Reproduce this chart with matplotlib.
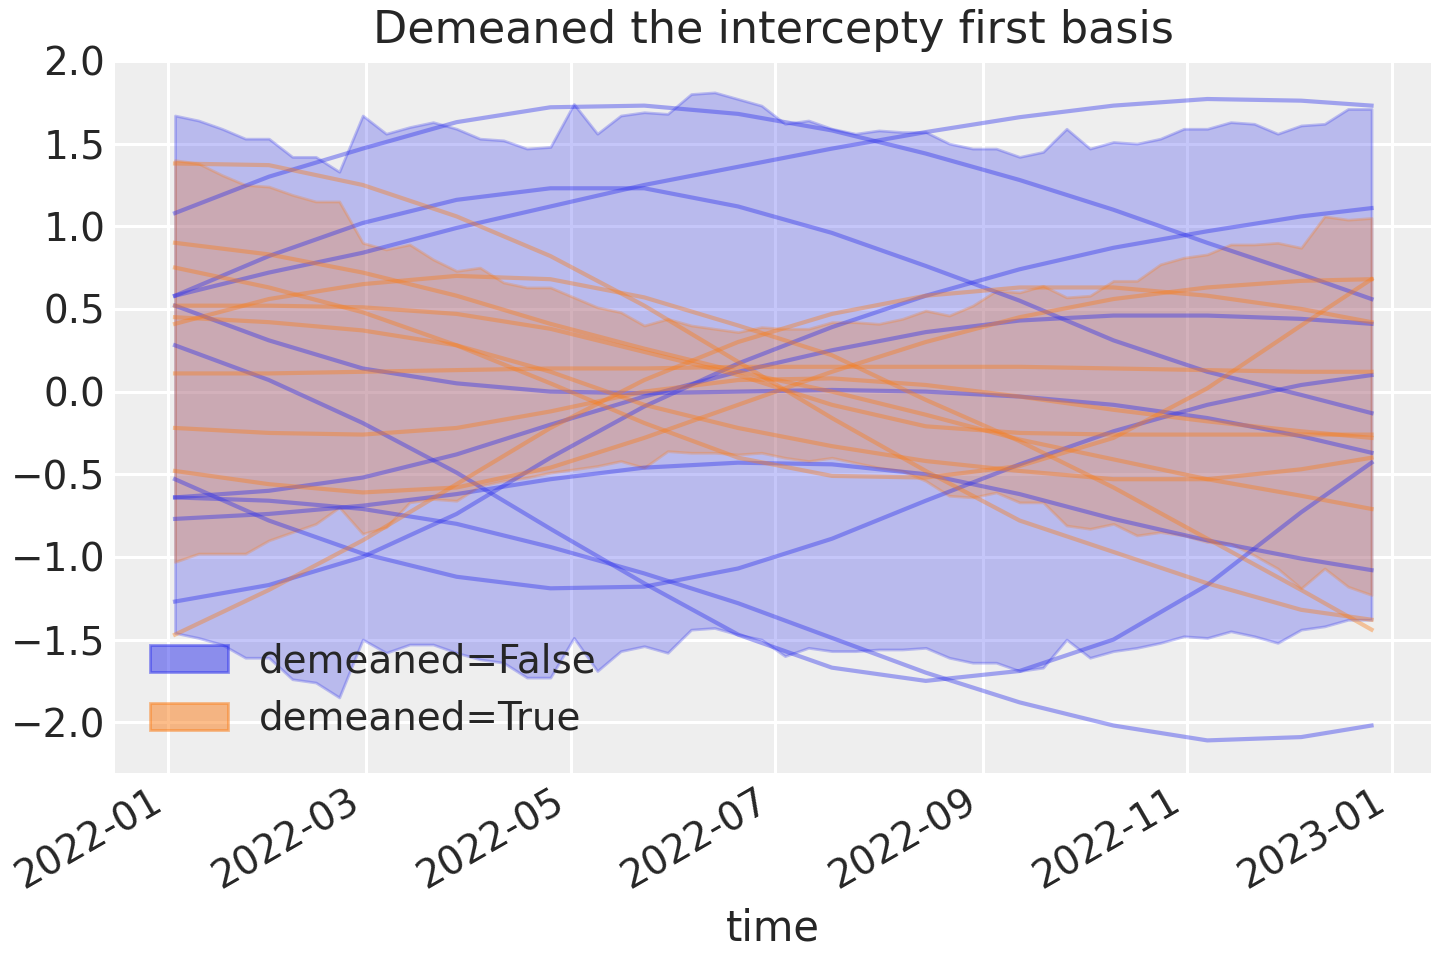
import matplotlib
matplotlib.use("Agg")
import matplotlib.pyplot as plt
import matplotlib.dates as mdates
import matplotlib.patches as mpatches
import pandas as pd

# weekly time axis of the model
weeks = pd.date_range("2022-01-03", periods=52, freq="7D")
curve_weeks = [0, 4, 8, 12, 16, 20, 24, 28, 32, 36, 40, 44, 48, 51]

# HDI band, demeaned=False
hdi_false_high = [1.67, 1.64, 1.59, 1.53, 1.53, 1.42, 1.42, 1.33, 1.67, 1.56,
                  1.60, 1.63, 1.59, 1.53, 1.52, 1.47, 1.48, 1.74, 1.56, 1.67,
                  1.69, 1.68, 1.80, 1.81, 1.77, 1.73, 1.62, 1.64, 1.59, 1.56,
                  1.58, 1.57, 1.57, 1.50, 1.47, 1.47, 1.42, 1.45, 1.59, 1.47,
                  1.51, 1.50, 1.53, 1.59, 1.59, 1.63, 1.62, 1.56, 1.61, 1.62,
                  1.71, 1.71]
hdi_false_low = [-1.46, -1.49, -1.53, -1.61, -1.61, -1.74, -1.76, -1.85, -1.50, -1.58,
                 -1.53, -1.53, -1.58, -1.62, -1.64, -1.73, -1.73, -1.49, -1.69, -1.57,
                 -1.54, -1.58, -1.44, -1.43, -1.47, -1.50, -1.60, -1.55, -1.57, -1.57,
                 -1.56, -1.56, -1.55, -1.61, -1.64, -1.64, -1.69, -1.67, -1.50, -1.61,
                 -1.57, -1.55, -1.52, -1.48, -1.49, -1.45, -1.48, -1.52, -1.44, -1.42,
                 -1.38, -1.38]

# HDI band, demeaned=True
hdi_true_high = [1.40, 1.38, 1.31, 1.25, 1.24, 1.19, 1.15, 1.15, 0.90, 0.86,
                 0.89, 0.80, 0.73, 0.75, 0.66, 0.63, 0.63, 0.57, 0.51, 0.48,
                 0.40, 0.44, 0.40, 0.38, 0.36, 0.39, 0.38, 0.38, 0.42, 0.42,
                 0.41, 0.44, 0.49, 0.46, 0.52, 0.61, 0.60, 0.64, 0.57, 0.58,
                 0.67, 0.67, 0.77, 0.81, 0.83, 0.89, 0.89, 0.90, 0.87, 1.06,
                 1.04, 1.05]
hdi_true_low = [-1.03, -0.98, -0.98, -0.98, -0.90, -0.85, -0.80, -0.70, -0.86, -0.82,
                -0.67, -0.65, -0.66, -0.57, -0.54, -0.52, -0.49, -0.47, -0.45, -0.42,
                -0.46, -0.36, -0.37, -0.37, -0.38, -0.37, -0.40, -0.42, -0.40, -0.43,
                -0.46, -0.48, -0.54, -0.63, -0.64, -0.61, -0.67, -0.67, -0.81, -0.83,
                -0.80, -0.87, -0.85, -0.87, -0.91, -0.92, -0.99, -1.07, -1.19, -1.07,
                -1.18, -1.23]

# posterior draws, demeaned=False
draws_false = [
    [1.08, 1.30, 1.47, 1.63, 1.72, 1.73, 1.68, 1.58, 1.44, 1.28, 1.10, 0.90, 0.71, 0.56],
    [0.58, 0.82, 1.02, 1.16, 1.23, 1.23, 1.12, 0.96, 0.76, 0.55, 0.31, 0.12, -0.02, -0.13],
    [0.58, 0.72, 0.84, 0.99, 1.12, 1.25, 1.36, 1.47, 1.57, 1.66, 1.73, 1.77, 1.76, 1.73],
    [0.52, 0.31, 0.14, 0.05, 0.00, -0.01, 0.00, 0.01, 0.00, -0.03, -0.08, -0.16, -0.27, -0.37],
    [0.28, 0.07, -0.19, -0.49, -0.83, -1.16, -1.47, -1.67, -1.75, -1.69, -1.50, -1.17, -0.73, -0.43],
    [-0.64, -0.66, -0.71, -0.80, -0.94, -1.10, -1.28, -1.49, -1.70, -1.88, -2.02, -2.11, -2.09, -2.02],
    [-0.53, -0.78, -0.98, -1.12, -1.19, -1.18, -1.07, -0.89, -0.66, -0.44, -0.24, -0.08, 0.04, 0.10],
    [-0.77, -0.74, -0.69, -0.62, -0.53, -0.46, -0.43, -0.44, -0.50, -0.62, -0.77, -0.90, -1.01, -1.08],
    [-1.27, -1.17, -1.00, -0.74, -0.40, -0.09, 0.17, 0.39, 0.58, 0.74, 0.87, 0.97, 1.06, 1.11],
    [-0.64, -0.60, -0.52, -0.38, -0.20, -0.03, 0.12, 0.25, 0.36, 0.43, 0.46, 0.46, 0.44, 0.41],
]

# posterior draws, demeaned=True
draws_true = [
    [1.38, 1.37, 1.25, 1.06, 0.82, 0.52, 0.18, -0.16, -0.48, -0.78, -0.97, -1.16, -1.32, -1.38],
    [0.90, 0.83, 0.72, 0.58, 0.41, 0.26, 0.12, 0.00, -0.14, -0.29, -0.41, -0.53, -0.63, -0.71],
    [0.75, 0.63, 0.48, 0.28, 0.05, -0.19, -0.40, -0.51, -0.52, -0.45, -0.28, 0.02, 0.40, 0.68],
    [0.52, 0.52, 0.51, 0.47, 0.38, 0.24, 0.10, -0.08, -0.21, -0.25, -0.26, -0.26, -0.26, -0.26],
    [0.45, 0.42, 0.37, 0.28, 0.12, -0.08, -0.22, -0.33, -0.42, -0.48, -0.53, -0.53, -0.47, -0.40],
    [0.41, 0.56, 0.65, 0.70, 0.68, 0.57, 0.40, 0.22, -0.05, -0.30, -0.58, -0.89, -1.20, -1.44],
    [0.11, 0.11, 0.12, 0.13, 0.14, 0.14, 0.15, 0.15, 0.15, 0.15, 0.14, 0.13, 0.12, 0.12],
    [-0.22, -0.25, -0.26, -0.22, -0.12, 0.00, 0.07, 0.08, 0.04, -0.03, -0.11, -0.18, -0.24, -0.28],
    [-0.48, -0.56, -0.61, -0.58, -0.46, -0.28, -0.08, 0.12, 0.30, 0.45, 0.56, 0.63, 0.67, 0.68],
    [-1.47, -1.20, -0.90, -0.56, -0.22, 0.07, 0.30, 0.47, 0.58, 0.63, 0.63, 0.58, 0.50, 0.42],
]

labels = ["demeaned=False", "demeaned=True"]
colors = ["#2a2eec", "#fa7c17"]

# arviz-darkgrid look
plt.rcParams.update({
    "axes.facecolor": "#eeeeee",
    "axes.edgecolor": "none",
    "axes.grid": True,
    "grid.color": "white",
    "grid.linewidth": 1.1,
    "axes.axisbelow": True,
    "xtick.major.size": 0,
    "ytick.major.size": 0,
    "xtick.labelsize": 14,
    "ytick.labelsize": 14,
    "text.color": "#262626",
    "xtick.color": "#262626",
    "ytick.color": "#262626",
    "axes.labelcolor": "#262626",
})

fig, ax = plt.subplots(figsize=(7.2, 4.8), dpi=200)

curve_dates = weeks[curve_weeks]
bands = [(hdi_false_low, hdi_false_high), (hdi_true_low, hdi_true_high)]
for (low, high), color in zip(bands, colors):
    ax.fill_between(weeks, low, high, color=color, alpha=0.27)

for draws, color in zip([draws_false, draws_true], colors):
    for draw in draws:
        ax.plot(curve_dates, draw, color=color, alpha=0.4, lw=1.5)

ax.xaxis.set_major_locator(mdates.MonthLocator(bymonth=[1, 3, 5, 7, 9, 11]))
ax.xaxis.set_major_formatter(mdates.DateFormatter("%Y-%m"))
for lbl in ax.get_xticklabels():
    lbl.set_rotation(30)
    lbl.set_ha("right")

ax.set_xlabel("time", fontsize=15)
ax.set_title("Demeaned the intercepty first basis", fontsize=16)

handles = [mpatches.Patch(color=c, alpha=0.5, label=l) for c, l in zip(colors, labels)]
ax.legend(handles=handles, loc="lower left", frameon=False, fontsize=14)

fig.subplots_adjust(left=0.08, right=0.994, top=0.9375, bottom=0.195)
fig.savefig("out.png", dpi=200)
